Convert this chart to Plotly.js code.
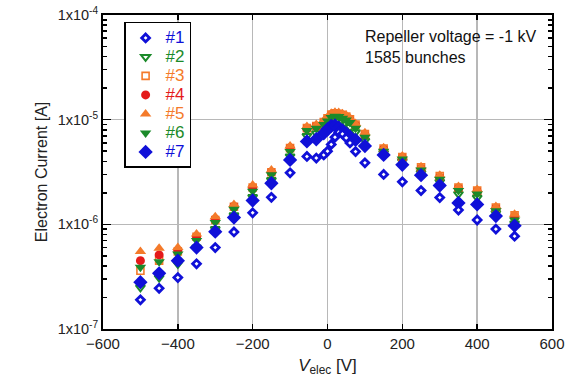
<!DOCTYPE html>
<html><head><meta charset="utf-8">
<script src="https://cdn.plot.ly/plotly-3.0.1.min.js"></script>
<style>html,body{margin:0;padding:0;background:#fff}#plot{width:571px;height:387px}</style>
</head><body><div id="plot"></div>
<script>
const xs = [-500,-450,-400,-350,-300,-250,-200,-150,-100,-55,-30,-10,0,10,20,30,40,50,60,75,100,150,200,250,300,350,400,450,500];
const s1 = [1.9e-7,2.45e-7,3.1e-7,4.2e-7,6.0e-7,8.45e-7,1.29e-6,1.81e-6,3.11e-6,4.45e-6,4.3e-6,4.6e-6,5.0e-6,5.8e-6,6.8e-6,7.6e-6,7.3e-6,6.7e-6,6.0e-6,4.96e-6,3.87e-6,3.0e-6,2.55e-6,2.1e-6,1.8e-6,1.37e-6,1.1e-6,9.0e-7,7.7e-7];
const s2 = [2.5e-7,3.1e-7,4.2e-7,6.0e-7,9.0e-7,1.22e-6,1.82e-6,2.65e-6,4.45e-6,7.0e-6,7.4e-6,8.2e-6,9.0e-6,9.6e-6,9.9e-6,9.7e-6,9.4e-6,9.0e-6,8.5e-6,7.6e-6,6.3e-6,4.8e-6,4.0e-6,3.1e-6,2.55e-6,1.95e-6,1.8e-6,1.28e-6,1.02e-6];
const s3 = [3.6e-7,4.5e-7,5.5e-7,7.6e-7,1.10e-6,1.47e-6,2.25e-6,3.15e-6,5.35e-6,8.3e-6,8.7e-6,9.5e-6,1.03e-5,1.12e-5,1.15e-5,1.14e-5,1.11e-5,1.07e-5,1.01e-5,9.0e-6,7.3e-6,5.3e-6,4.4e-6,3.5e-6,2.9e-6,2.25e-6,2.1e-6,1.45e-6,1.22e-6];
const s4 = [4.5e-7,5.1e-7,5.6e-7,7.6e-7,1.12e-6,1.48e-6,2.25e-6,3.15e-6,5.35e-6,8.2e-6,8.6e-6,9.3e-6,1.01e-5,1.10e-5,1.13e-5,1.12e-5,1.09e-5,1.05e-5,9.9e-6,8.8e-6,7.1e-6,5.2e-6,4.3e-6,3.4e-6,2.8e-6,2.2e-6,2.05e-6,1.42e-6,1.18e-6];
const s5 = [5.5e-7,5.9e-7,6.0e-7,8.1e-7,1.18e-6,1.55e-6,2.38e-6,3.3e-6,5.6e-6,8.6e-6,9.0e-6,9.8e-6,1.06e-5,1.15e-5,1.18e-5,1.17e-5,1.14e-5,1.10e-5,1.04e-5,9.2e-6,7.5e-6,5.4e-6,4.5e-6,3.55e-6,2.95e-6,2.3e-6,2.15e-6,1.48e-6,1.25e-6];
const s6 = [3.9e-7,4.4e-7,5.2e-7,7.0e-7,1.04e-6,1.39e-6,2.07e-6,2.97e-6,4.96e-6,7.9e-6,8.3e-6,9.0e-6,9.7e-6,1.05e-5,1.08e-5,1.07e-5,1.03e-5,9.9e-6,9.4e-6,8.3e-6,6.8e-6,5.0e-6,4.2e-6,3.3e-6,2.7e-6,2.1e-6,1.95e-6,1.35e-6,1.1e-6];
const s7 = [2.8e-7,3.4e-7,4.5e-7,6.0e-7,8.5e-7,1.16e-6,1.69e-6,2.47e-6,4.12e-6,6.2e-6,6.5e-6,7.4e-6,8.1e-6,8.7e-6,8.8e-6,8.4e-6,7.9e-6,7.4e-6,6.9e-6,6.4e-6,5.6e-6,4.6e-6,3.7e-6,2.95e-6,2.35e-6,1.6e-6,1.55e-6,1.2e-6,9.7e-7];
const names = ['#1','#2','#3','#4','#5','#6','#7'];
const yTickVals = [1e-7,1e-6,1e-5,1e-4];
const yTickText = ['1x10<sup>-7</sup>','1x10<sup>-6</sup>','1x10<sup>-5</sup>','1x10<sup>-4</sup>'];
const xTickVals = [-600,-400,-200,0,200,400,600];

const BLUE='#1010d8', GREEN='#1b8a2a', ORANGE='#f47a2a', RED='#e41a1a';
const styles = [
  {color:BLUE,  sym:'diamond', fill:'#ffffff', lw:2.8, size:6},
  {color:GREEN, sym:'triangle-down', fill:'#ffffff', lw:2, size:8},
  {color:ORANGE,sym:'square', fill:'#ffffff', lw:1.6, size:7},
  {color:RED,   sym:'circle', fill:RED, lw:0, size:9},
  {color:ORANGE,sym:'triangle-up', fill:ORANGE, lw:0, size:10},
  {color:GREEN, sym:'triangle-down', fill:GREEN, lw:0, size:10},
  {color:BLUE,  sym:'diamond', fill:BLUE, lw:0, size:11},
];
const series = [s1,s2,s3,s4,s5,s6,s7];
const order = [1,2,3,4,5,6,0];
const traces = order.map(i => ({
  type:'scatter', mode:'markers', x:xs, y:series[i],
  name:'<span style="color:'+styles[i].color+';font-size:17px">'+names[i]+'</span>',
  legendrank:i+1,
  marker:{symbol:styles[i].sym, size:styles[i].size, color:styles[i].fill,
          line:{color:styles[i].color, width:styles[i].lw}},
  hoverinfo:'skip'
}));
const minorVals = [];
for (let d=-7; d<-4; d++) for (let m=2; m<10; m++) minorVals.push(m*Math.pow(10,d));

const layout = {
  width:571, height:387,
  margin:{l:103, r:19, t:15, b:58},
  paper_bgcolor:'#fff', plot_bgcolor:'#fff',
  font:{family:'"Liberation Sans", Arial, sans-serif', color:'#222', size:14},
  showlegend:true,
  legend:{x:0.047, y:0.978, xanchor:'left', yanchor:'top', bgcolor:'#fff',
          bordercolor:'#000', borderwidth:1.5, font:{size:11.8}, tracegroupgap:0,
          traceorder:'normal', itemwidth:30},
  shapes:[{type:'rect', xref:'paper', yref:'paper', x0:0.06, x1:0.196, y0:0.515, y1:0.96,
           fillcolor:'#000', line:{width:0}, layer:'above'}],
  xaxis:{range:[-600,600], tickvals:xTickVals, ticks:'inside', ticklen:5, tickwidth:1.5,
         tickcolor:'#000', mirror:'allticks', showline:true, linecolor:'#000', linewidth:2,
         showgrid:true, gridcolor:'#b8b8b8', gridwidth:1.5, zeroline:false,
         tickfont:{size:15},
         title:{text:'<i>V</i><sub>elec</sub> [V]', font:{size:17}, standoff:8}},
  yaxis:{type:'log', range:[-7,-4], tickvals:yTickVals, ticktext:yTickText,
         ticks:'inside', ticklen:8, tickwidth:1.5, tickcolor:'#000', mirror:'allticks',
         showline:true, linecolor:'#000', linewidth:2, showgrid:true, gridcolor:'#b8b8b8',
         gridwidth:1.5, zeroline:false, tickfont:{size:14.5},
         minor:{tickvals:minorVals, ticks:'inside', ticklen:4, tickcolor:'#000', showgrid:false},
         title:{text:'Electron Current [A]', font:{size:16}, standoff:6}},
  annotations:[{xref:'paper', yref:'paper', x:0.579, y:0.966, xanchor:'left', yanchor:'top',
     align:'left', showarrow:false, text:'Repeller voltage = -1 kV<br>1585 bunches',
     font:{size:16, color:'#111'}}]
};
Plotly.newPlot('plot', traces, layout, {staticPlot:true});
</script></body></html>
